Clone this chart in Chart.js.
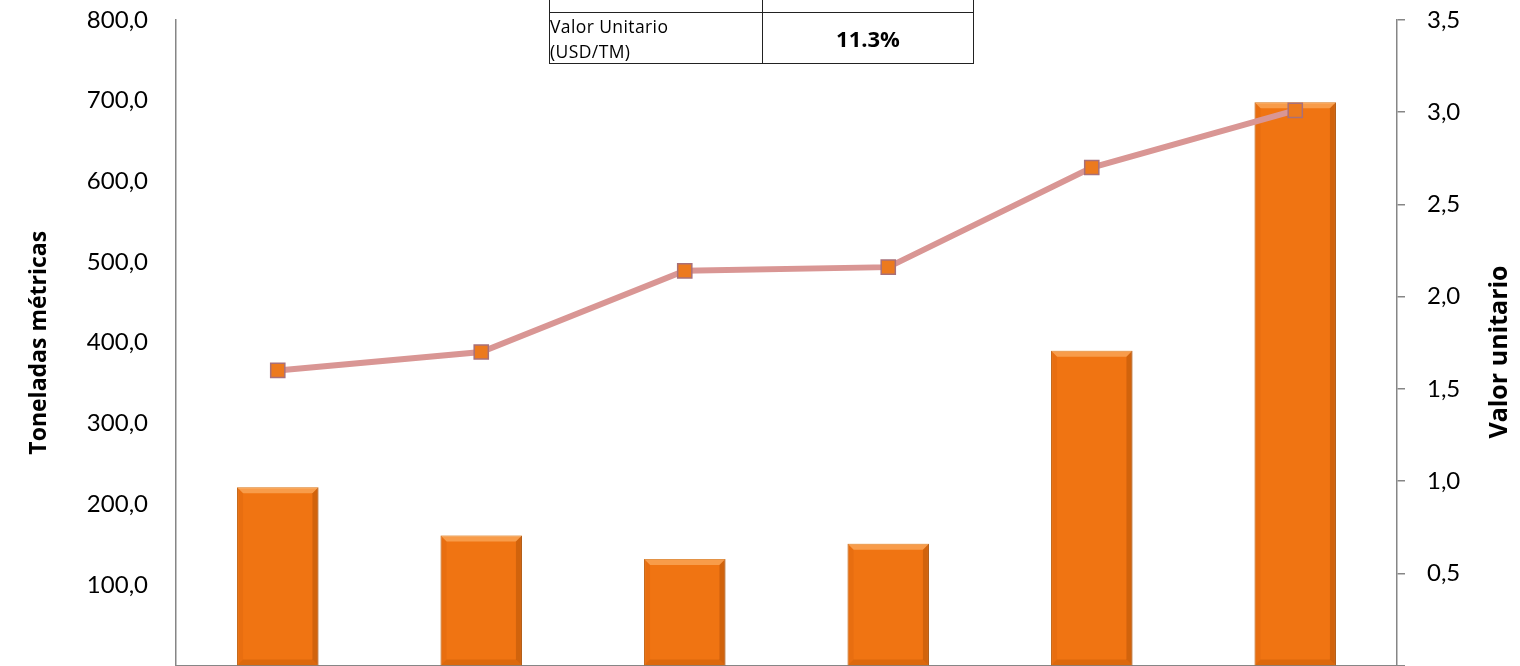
<!DOCTYPE html>
<html>
<head>
<meta charset="utf-8">
<script src="https://cdn.jsdelivr.net/npm/chart.js@4/dist/chart.umd.min.js"></script>
<style>
  html, body { margin: 0; padding: 0; background: #fff; }
  #wrap { position: relative; width: 1520px; height: 666px; overflow: hidden; }
  #grafico { position: absolute; left: 0; top: 0; }
  #tabla {
    position: absolute; left: 549px; top: -38px;
    border-collapse: collapse; font-family: "Open Sans", sans-serif; color: #000;
  }
  #tabla td { border: 1.5px solid #222; padding: 0; }
  #tabla td.c1 { width: 212px; font-size: 17.5px; letter-spacing: 0.4px; line-height: 24.5px; vertical-align: top; padding-top: 1px; }
  #tabla td.c2 { width: 210px; font-size: 22px; font-weight: bold; text-align: center; padding-top: 0; }
</style>
</head>
<body>
<div id="wrap">
  <canvas id="grafico" width="1520" height="677"></canvas>
  <table id="tabla">
    <tr style="height:50px"><td class="c1"></td><td class="c2"></td></tr>
    <tr><td class="c1">Valor Unitario<br>(USD/TM)</td><td class="c2">11.3%</td></tr>
  </table>
</div>
<script>
var categorias = ["2009", "2010", "2011", "2012", "2013", "2014"];
var volumen = [221, 161, 132, 151, 390, 698];
var valorUnitario = [1.60, 1.70, 2.14, 2.16, 2.70, 3.01];
var ticksIzq = [100, 200, 300, 400, 500, 600, 700, 800];
var ticksDer = [0.5, 1.0, 1.5, 2.0, 2.5, 3.0, 3.5];

function coma(v, dec) {
  return v.toFixed(dec).replace(".", ",");
}

function sinRelleno(s) {
  s.paddingTop = 0; s.paddingBottom = 0; s.paddingLeft = 0; s.paddingRight = 0;
}

// bisel de las barras, como el efecto de Excel
var bisel = {
  id: "bisel",
  afterDatasetDraw: function(chart, args) {
    if (args.index !== 0) return;
    var ctx = chart.ctx;
    var b = 6;
    args.meta.data.forEach(function(bar) {
      var l = bar.x - bar.width / 2, r = bar.x + bar.width / 2;
      var t = bar.y, bo = bar.base;
      ctx.save();
      ctx.fillStyle = "rgba(255,190,120,0.55)";
      ctx.beginPath();
      ctx.moveTo(l, t); ctx.lineTo(r, t); ctx.lineTo(r - b, t + b); ctx.lineTo(l + b, t + b);
      ctx.closePath(); ctx.fill();
      ctx.fillStyle = "rgba(140,60,0,0.3)";
      ctx.beginPath();
      ctx.moveTo(r, t); ctx.lineTo(r, bo); ctx.lineTo(r - b, bo - b); ctx.lineTo(r - b, t + b);
      ctx.closePath(); ctx.fill();
      ctx.fillStyle = "rgba(160,70,0,0.25)";
      ctx.beginPath();
      ctx.moveTo(l, bo); ctx.lineTo(r, bo); ctx.lineTo(r - b, bo - b); ctx.lineTo(l + b, bo - b);
      ctx.closePath(); ctx.fill();
      ctx.fillStyle = "rgba(200,90,10,0.2)";
      ctx.beginPath();
      ctx.moveTo(l, t); ctx.lineTo(l + b, t + b); ctx.lineTo(l + b, bo - b); ctx.lineTo(l, bo);
      ctx.closePath(); ctx.fill();
      ctx.restore();
    });
  }
};

// titulo del eje derecho, leido de abajo hacia arriba
var tituloDer = {
  id: "tituloDer",
  afterDraw: function(chart) {
    var ctx = chart.ctx;
    ctx.save();
    ctx.translate(1500, 352);
    ctx.rotate(-Math.PI / 2);
    ctx.font = "bold 25px 'Open Sans'";
    ctx.fillStyle = "#000";
    ctx.textAlign = "center";
    ctx.textBaseline = "middle";
    ctx.fillText("Valor unitario", 0, 0);
    ctx.restore();
  }
};

var ctx = document.getElementById("grafico").getContext("2d");
var grafico = new Chart(ctx, {
  data: {
    labels: categorias,
    datasets: [
      {
        type: "bar",
        label: "Toneladas métricas",
        data: volumen,
        yAxisID: "y",
        backgroundColor: "#F07412",
        borderColor: "#C0600E",
        borderWidth: 1,
        barPercentage: 0.4,
        categoryPercentage: 1.0,
        order: 1
      },
      {
        type: "line",
        label: "Valor unitario",
        data: valorUnitario,
        yAxisID: "y1",
        borderColor: "#D99694",
        borderWidth: 6,
        pointStyle: "rect",
        pointRadius: 10,
        pointBackgroundColor: "#EC7A1E",
        pointBorderColor: "#A8707A",
        pointBorderWidth: 1.5,
        tension: 0,
        order: 0
      }
    ]
  },
  options: {
    responsive: false,
    animation: false,
    layout: { padding: { top: 20, bottom: 0, left: 0, right: 0 } },
    plugins: {
      legend: { display: false },
      tooltip: { enabled: false }
    },
    scales: {
      x: {
        ticks: { display: false },
        grid: { display: false, drawTicks: false },
        border: { color: "#868686", width: 1.5 },
        afterFit: function(s) { s.height = 1; sinRelleno(s); }
      },
      y: {
        position: "left",
        min: 0,
        max: 800,
        afterBuildTicks: function(s) { s.ticks = [0].concat(ticksIzq).map(function(v) { return { value: v }; }); },
        ticks: {
          padding: 28,
          color: "#000",
          font: { family: "Lato", size: 24 },
          callback: function(v) { return v === 0 ? "" : coma(v, 1); }
        },
        grid: { display: false, drawTicks: false },
        border: { color: "#868686", width: 1.5 },
        title: {
          display: true,
          text: "Toneladas métricas",
          color: "#000",
          font: { family: "Open Sans", size: 23, weight: "bold" },
          padding: { top: 26, bottom: 0 }
        },
        afterFit: function(s) { s.width = 176; sinRelleno(s); }
      },
      y1: {
        position: "right",
        min: 0,
        max: 3.5,
        afterBuildTicks: function(s) { s.ticks = [0].concat(ticksDer).map(function(v) { return { value: v }; }); },
        ticks: {
          padding: 22,
          color: "#000",
          font: { family: "Lato", size: 24 },
          callback: function(v) { return v === 0 ? "" : coma(v, 1); }
        },
        grid: { drawOnChartArea: false, drawTicks: true, tickLength: 8, color: "#868686", lineWidth: 1.5 },
        border: { color: "#868686", width: 1.5 },
        afterFit: function(s) { s.width = 123; sinRelleno(s); }
      }
    }
  },
  plugins: [bisel, tituloDer]
});
</script>
</body>
</html>
